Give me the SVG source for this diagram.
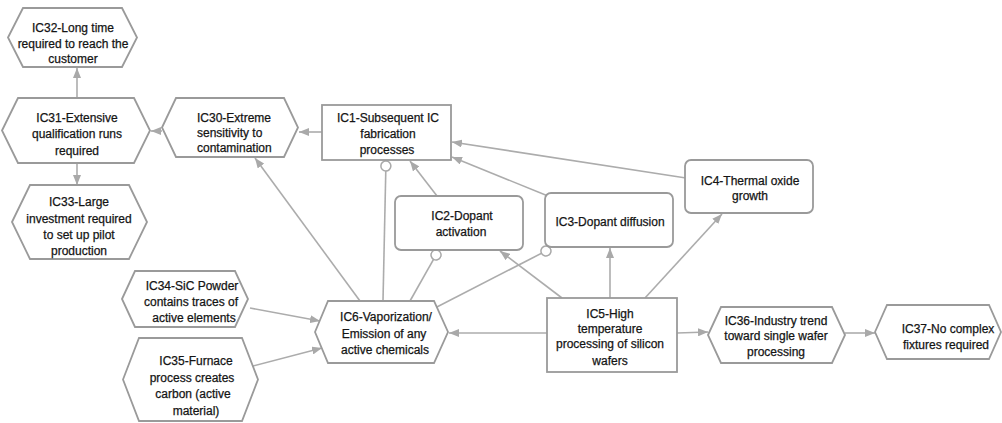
<svg xmlns="http://www.w3.org/2000/svg" width="1002" height="423" viewBox="0 0 1002 423">
  <defs>
    <marker id="arrow" viewBox="0 0 10 8" refX="10" refY="4" markerWidth="10" markerHeight="8" markerUnits="userSpaceOnUse" orient="auto">
      <path d="M0,0 L10,4 L0,8 z" fill="#a9a9a9"/>
    </marker>
    <marker id="ring" viewBox="0 0 12 12" refX="11" refY="6" markerWidth="12" markerHeight="12" markerUnits="userSpaceOnUse" orient="auto">
      <circle cx="6" cy="6" r="5" fill="#ffffff" stroke="#a9a9a9" stroke-width="1.5"/>
    </marker>
    <style>
      .node { fill: #ffffff; stroke: #9a9a9a; stroke-width: 1.8; }
      .edge { fill: none; stroke: #acacac; stroke-width: 1.6; }
      .arr { marker-end: url(#arrow); }
      .circ { marker-end: url(#ring); }
      text { font-family: "Liberation Sans", Arial, sans-serif; font-size: 12px; fill: #141414; stroke: #141414; stroke-width: 0.25; text-anchor: middle; }
      .left { text-anchor: start; }
    </style>
  </defs>
  <rect width="1002" height="423" fill="#ffffff"/>

  <!-- connectors -->
  <g id="connectors">
    <path class="edge arr" d="M77,98 L77,68"/>
    <path class="edge arr" d="M77,163 L77,185"/>
    <path class="edge arr" d="M162,131 L151,131"/>
    <path class="edge arr" d="M322,132 L299,132"/>
    <path class="edge arr" d="M360,301 L255,158"/>
    <path class="edge circ" d="M383,301 L386,161"/>
    <path class="edge circ" d="M410,301 L438.5,250.6"/>
    <path class="edge circ" d="M433,309 L550.4,248.7"/>
    <path class="edge arr" d="M437,196 L410,161"/>
    <path class="edge arr" d="M548,196 L452,157"/>
    <path class="edge arr" d="M686,178 L452,142"/>
    <path class="edge arr" d="M562,298 L500,251"/>
    <path class="edge arr" d="M610,298 L610,248"/>
    <path class="edge arr" d="M645,298 L722,214"/>
    <path class="edge arr" d="M547,333 L449,333"/>
    <path class="edge arr" d="M677,333 L708,332"/>
    <path class="edge arr" d="M845,333 L875,333"/>
    <path class="edge arr" d="M250,308 L320,321"/>
    <path class="edge arr" d="M253,366 L322,348"/>
  </g>

  <!-- nodes -->
  <g id="IC32">
    <path class="node" d="M8,37.5 L23,8 L122,8 L137,37.5 L122,67 L23,67 z"/>
    <text x="73" y="32">IC32-Long time</text>
    <text x="73" y="48">required to reach the</text>
    <text x="73" y="63">customer</text>
  </g>
  <g id="IC31">
    <path class="node" d="M2,130.5 L18,98 L134,98 L150,130.5 L134,163 L18,163 z"/>
    <text x="77" y="122">IC31-Extensive</text>
    <text x="77" y="138">qualification runs</text>
    <text x="77" y="155">required</text>
  </g>
  <g id="IC33">
    <path class="node" d="M12,222 L30,185 L129,185 L147,222 L129,259 L30,259 z"/>
    <text x="79" y="206">IC33-Large</text>
    <text x="79" y="223">investment required</text>
    <text x="79" y="239">to set up pilot</text>
    <text x="79" y="255">production</text>
  </g>
  <g id="IC30">
    <path class="node" d="M162,127.5 L176,98 L284,98 L298,127.5 L284,157 L176,157 z"/>
    <text class="left" x="197" y="122">IC30-Extreme</text>
    <text class="left" x="197" y="137">sensitivity to</text>
    <text class="left" x="197" y="152">contamination</text>
  </g>
  <g id="IC1">
    <rect class="node" x="322" y="105" width="129" height="55"/>
    <text x="388" y="122">IC1-Subsequent IC</text>
    <text x="388" y="138">fabrication</text>
    <text x="387" y="154">processes</text>
  </g>
  <g id="IC2">
    <rect class="node" x="395" y="196" width="128" height="54" rx="6"/>
    <text x="462" y="220">IC2-Dopant</text>
    <text x="461" y="236">activation</text>
  </g>
  <g id="IC3">
    <rect class="node" x="545" y="193" width="128" height="54" rx="6"/>
    <text x="610" y="226">IC3-Dopant diffusion</text>
  </g>
  <g id="IC4">
    <rect class="node" x="685" y="160" width="128" height="53" rx="6"/>
    <text x="750" y="185">IC4-Thermal oxide</text>
    <text x="750" y="200">growth</text>
  </g>
  <g id="IC5">
    <rect class="node" x="547" y="298" width="130" height="74"/>
    <text x="610" y="318">IC5-High</text>
    <text x="610" y="333">temperature</text>
    <text x="610" y="348">processing of silicon</text>
    <text x="610" y="365">wafers</text>
  </g>
  <g id="IC6">
    <path class="node" d="M315,332 L328,301 L434,301 L448,332 L434,363 L328,363 z"/>
    <text x="386" y="321">IC6-Vaporization/</text>
    <text x="384" y="338">Emission of any</text>
    <text x="385" y="354">active chemicals</text>
  </g>
  <g id="IC34">
    <path class="node" d="M122,299 L135,271 L235,271 L248,299 L235,327 L135,327 z"/>
    <text x="192" y="290">IC34-SiC Powder</text>
    <text x="191" y="306">contains traces of</text>
    <text x="194" y="322">active elements</text>
  </g>
  <g id="IC35">
    <path class="node" d="M123,379.5 L139,338 L242,338 L258,379.5 L242,421 L139,421 z"/>
    <text x="196" y="365">IC35-Furnace</text>
    <text x="192" y="382">process creates</text>
    <text x="193" y="398">carbon (active</text>
    <text x="196" y="415">material)</text>
  </g>
  <g id="IC36">
    <path class="node" d="M708,335 L721,307 L832,307 L845,335 L832,363 L721,363 z"/>
    <text x="776" y="325">IC36-Industry trend</text>
    <text x="776" y="340">toward single wafer</text>
    <text x="776" y="356">processing</text>
  </g>
  <g id="IC37">
    <path class="node" d="M875,332 L887,305 L989,305 L1001,332 L989,359 L887,359 z"/>
    <text x="948" y="333">IC37-No complex</text>
    <text x="946" y="349">fixtures required</text>
  </g>
</svg>
